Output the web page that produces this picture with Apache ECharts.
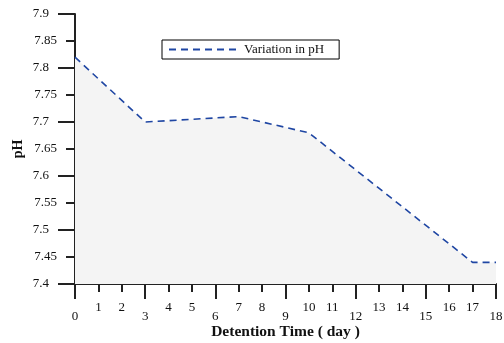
<!DOCTYPE html>
<html>
<head>
<meta charset="utf-8">
<script src="https://cdn.jsdelivr.net/npm/echarts@6/dist/echarts.min.js"></script>
<style>
  html, body { margin: 0; padding: 0; background: #fff; }
  #chart { width: 504px; height: 343px; }
</style>
</head>
<body>
<div id="chart"></div>
<script>
// Detention time (days) and measured pH
const days = [0, 3, 7, 10, 17, 18];
const phValues = [7.82, 7.70, 7.71, 7.68, 7.44, 7.44];
const seriesName = 'Variation in pH';
const xTitle = 'Detention Time ( day )';
const yTitle = 'pH';

const serif = 'Liberation Serif';
const axisColor = '#222';
const lineColor = '#1f46a3';

const chart = echarts.init(document.getElementById('chart'), null, { renderer: 'canvas' });

const tickFont = { fontFamily: serif, fontSize: 13, color: '#111' };

chart.setOption({
  animation: false,
  backgroundColor: '#fff',
  grid: { left: 75, right: 8, top: 14, bottom: 59, containLabel: false, outerBoundsMode: 'none' },
  legend: {
    left: 162, top: 40,
    padding: [3, 15, 3, 6],
    itemWidth: 70, itemHeight: 10, itemGap: 0,
    borderColor: '#000', borderWidth: 1,
    itemStyle: { opacity: 0 },
    textStyle: { fontFamily: serif, fontSize: 13, color: '#111', padding: [0, 0, 0, 0] },
    data: [seriesName]
  },
  xAxis: [
    {
      // major ticks every 3 days, labels on the lower row
      type: 'value', min: 0, max: 18, interval: 3,
      axisLine: { lineStyle: { color: axisColor, width: 2 } },
      axisTick: { length: 15, lineStyle: { color: axisColor, width: 2 } },
      axisLabel: Object.assign({ margin: 26 }, tickFont),
      splitLine: { show: false },
      name: xTitle, nameLocation: 'middle', nameGap: 40, nameMoveOverlap: false,
      nameTextStyle: { fontFamily: serif, fontSize: 15.5, fontWeight: 'bold', color: '#111' }
    },
    {
      // daily ticks, labels on the upper row
      type: 'value', min: 0, max: 18, interval: 1, position: 'bottom',
      axisLine: { show: false },
      axisTick: { length: 8, lineStyle: { color: axisColor, width: 2 } },
      axisLabel: Object.assign({
        margin: 17,
        formatter: v => (Math.round(v) % 3 === 0 ? '' : String(v))
      }, tickFont),
      splitLine: { show: false }
    }
  ],
  yAxis: [
    {
      type: 'value', min: 7.4, max: 7.9, interval: 0.1,
      axisLine: { show: true, lineStyle: { color: axisColor, width: 2 } },
      axisTick: { show: true, length: 17, lineStyle: { color: axisColor, width: 2 } },
      axisLabel: Object.assign({ margin: 26 }, tickFont),
      splitLine: { show: false },
      name: yTitle, nameLocation: 'middle', nameGap: 50, nameRotate: 90, nameMoveOverlap: false,
      nameTextStyle: { fontFamily: serif, fontSize: 14, fontWeight: 'bold', color: '#111' }
    },
    {
      type: 'value', min: 7.4, max: 7.9, interval: 0.05, position: 'left',
      axisLine: { show: false },
      axisTick: { show: true, length: 9, lineStyle: { color: axisColor, width: 2 } },
      axisLabel: Object.assign({
        margin: 18,
        formatter: v => (Math.round(v * 100) % 10 === 5 ? v.toFixed(2) : '')
      }, tickFont),
      splitLine: { show: false }
    }
  ],
  series: [
    {
      name: seriesName,
      type: 'line',
      xAxisIndex: 0, yAxisIndex: 0,
      data: days.map((d, i) => [d, phValues[i]]),
      symbol: 'none',
      lineStyle: { color: lineColor, width: 1.6, type: [7, 5] },
      itemStyle: { color: lineColor },
      areaStyle: { color: '#f4f4f4', opacity: 1, origin: 'start' },
      z: 1
    }
  ]
});
</script>
</body>
</html>
